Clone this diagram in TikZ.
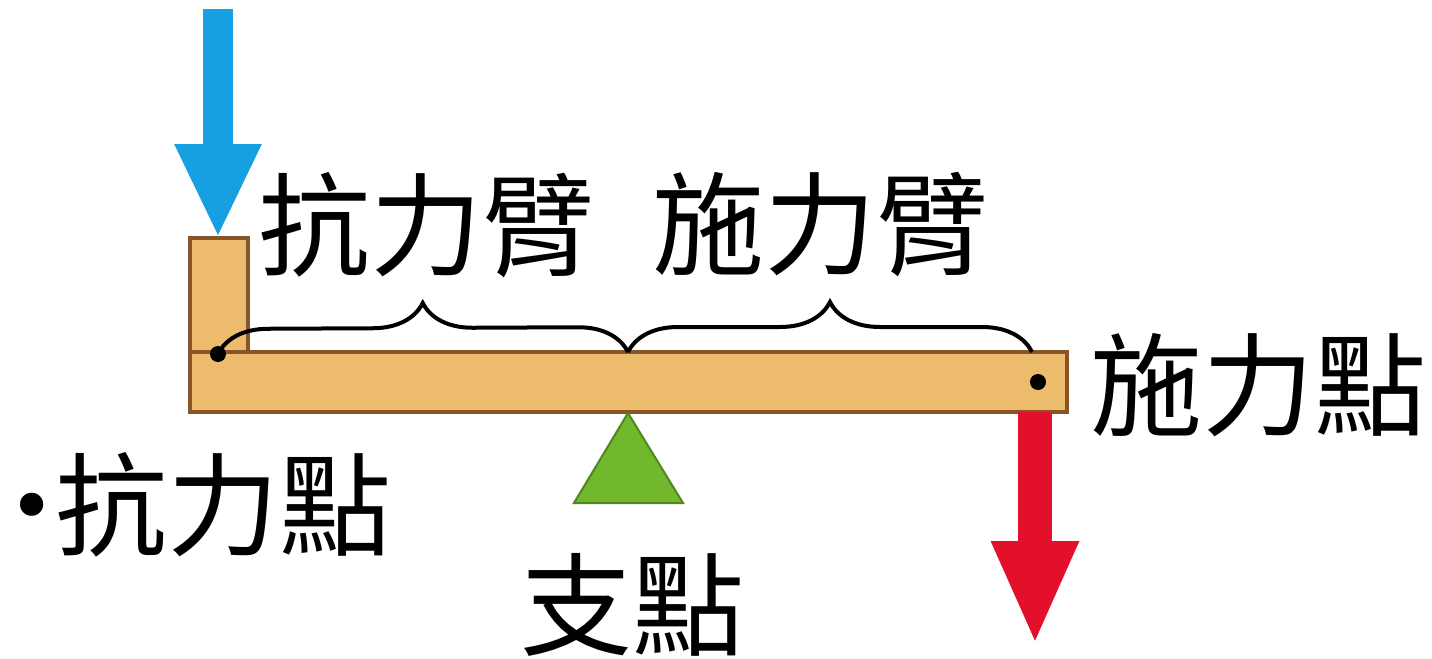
\documentclass[tikz,border=0pt]{standalone}
\usepackage{fontspec}
\newfontfamily\cjk{Noto Sans CJK TC}
\newfontfamily\dotfont{DejaVu Sans}
\usetikzlibrary{arrows.meta,decorations.pathreplacing}
\definecolor{woodfill}{RGB}{236,188,108}
\definecolor{woodline}{RGB}{135,85,40}
\definecolor{pushblue}{RGB}{22,160,226}
\definecolor{pullred}{RGB}{226,16,42}
\definecolor{pivotgreen}{RGB}{114,184,44}
\definecolor{pivotline}{RGB}{80,135,30}
\tikzset{
  lbl/.style={font=\cjk\fontsize{56}{56}\selectfont, inner sep=0pt},
  plank/.style={fill=woodfill, draw=woodline, line width=1.6pt},
  arm/.style={decorate, decoration={brace, amplitude=25pt}, line width=2pt},
}
\begin{document}
\begin{tikzpicture}[x=0.5pt,y=-0.5pt]
	\useasboundingbox (0,0) rectangle (1432,659);
	% lever
	\draw[plank] (190,238) rectangle (248,352);
	\draw[plank] (190,352) rectangle (1067,412);
	\coordinate (posttop) at (218,238);
	\coordinate (barbot) at (1035,412);
	\coordinate (load) at (218,354);
	\coordinate (effort) at (1038,382);
	\coordinate (fulcrum) at (628,352);
	\coordinate (barend) at (1032,352);
	\fill (load) circle (4pt);
	\fill (effort) circle (4pt);
	% arms
	\draw[arm] (load) -- (fulcrum);
	\draw[arm] (fulcrum) -- (barend);
	% forces
	\draw[pushblue, line width=15pt, -{Triangle[width=40pt,length=47pt]}] (218,9) -- (posttop);
	\draw[pullred, line width=17pt, -{Triangle[width=40pt,length=52pt]}] (barbot) -- (1035,645);
	% pivot
	\filldraw[fill=pivotgreen, draw=pivotline, line width=1pt] (628,413) -- (683,503) -- (574,503) -- cycle;
	\node[lbl] (resarm) at (426,225) {抗力臂};
	\node[lbl] (effarm) at (820,225) {施力臂};
	\node[lbl, anchor=west] (effpt) at (1090,385) {施力點};
	\node[lbl, anchor=east] (respt) at (392,505) {抗力點};
	\node[font=\dotfont\fontsize{40}{40}\selectfont, inner sep=0pt] (bullet) at (32,514) {•};
	\node[lbl] (pivot) at (632,605) {支點};
\end{tikzpicture}
\end{document}
